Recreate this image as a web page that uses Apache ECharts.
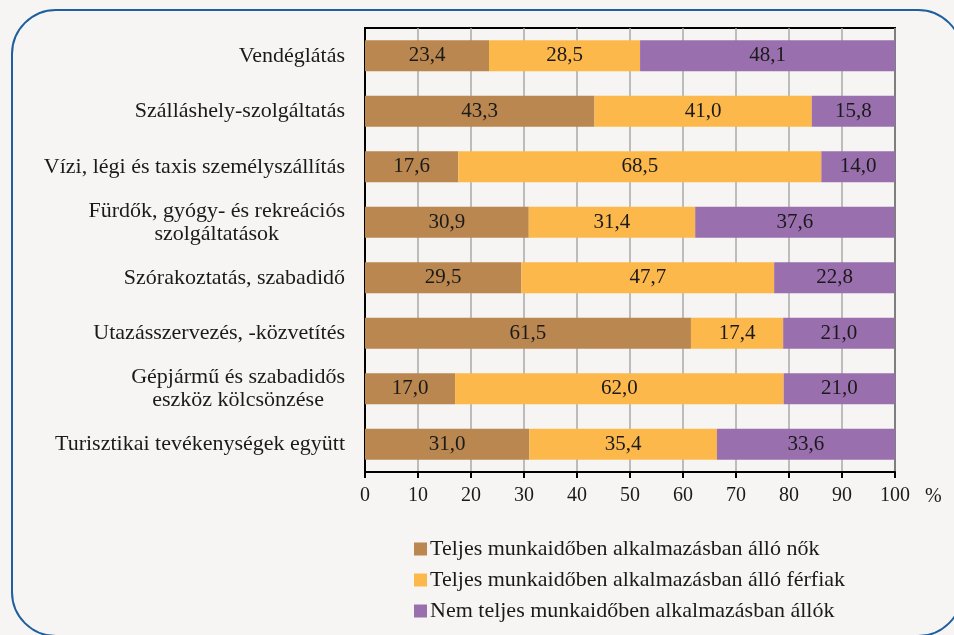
<!DOCTYPE html>
<html>
<head>
<meta charset="utf-8">
<script src="https://cdn.jsdelivr.net/npm/echarts@6/dist/echarts.min.js"></script>
<style>
	html, body { margin: 0; padding: 0; background: #f6f5f3; }
	#chart { width: 954px; height: 635px; }
</style>
</head>
<body>
<div id="chart"></div>
<script>
var categories = [
	'Vendéglátás',
	'Szálláshely-szolgáltatás',
	'Vízi, légi és taxis személyszállítás',
	'Fürdők, gyógy- és rekreációs\nszolgáltatások',
	'Szórakoztatás, szabadidő',
	'Utazásszervezés, -közvetítés',
	'Gépjármű és szabadidős\neszköz kölcsönzése',
	'Turisztikai tevékenységek együtt'
];
var seriesNames = [
	'Teljes munkaidőben alkalmazásban álló nők',
	'Teljes munkaidőben alkalmazásban álló férfiak',
	'Nem teljes munkaidőben alkalmazásban állók'
];
var womenFull = [23.4, 43.3, 17.6, 30.9, 29.5, 61.5, 17.0, 31.0];
var menFull = [28.5, 41.0, 68.5, 31.4, 47.7, 17.4, 62.0, 35.4];
var partTime = [48.1, 15.8, 14.0, 37.6, 22.8, 21.0, 21.0, 33.6];
var colors = ['#b9874f', '#fcb84a', '#9a6fae'];

var myChart = echarts.init(document.getElementById('chart'));
var font = '"Liberation Serif", "DejaVu Serif", serif';
var textColor = '#1a1a1a';

function makeSeries(name, data, color) {
	return {
		name: name,
		type: 'bar',
		stack: 'total',
		data: data,
		barCategoryGap: '44%',
		itemStyle: { color: color },
		label: {
			show: true,
			position: 'inside',
			color: textColor,
			fontFamily: font,
			fontSize: 21,
			formatter: function (p) {
				return p.value.toFixed(1).replace('.', ',');
			}
		}
	};
}

var option = {
	backgroundColor: '#f6f5f3',
	animation: false,
	graphic: [{
		type: 'rect',
		shape: { x: 12, y: 10, width: 950, height: 626, r: 44 },
		style: { fill: 'none', stroke: '#1f5f9f', lineWidth: 2 },
		silent: true
	}],
	grid: {
		left: 365,
		right: 59,
		top: 28,
		bottom: 163,
		show: true,
		borderColor: '#000',
		borderWidth: 2,
		backgroundColor: 'transparent'
	},
	legend: {
		orient: 'vertical',
		left: 409,
		top: 533,
		itemWidth: 13,
		itemHeight: 13,
		itemGap: 9,
		icon: 'rect',
		data: seriesNames,
		textStyle: { fontFamily: font, fontSize: 22, color: textColor, padding: [0, 0, 0, -2] }
	},
	xAxis: {
		type: 'value',
		min: 0,
		max: 100,
		interval: 10,
		name: '%',
		nameLocation: 'end',
		nameGap: 30,
		nameTextStyle: {
			fontFamily: font, fontSize: 20, color: textColor,
			verticalAlign: 'top', align: 'left', padding: [15, 0, 0, 0]
		},
		axisLine: { show: true, lineStyle: { color: '#000', width: 2 } },
		axisTick: { show: true, length: 6, lineStyle: { color: '#000', width: 2 } },
		axisLabel: { fontFamily: font, fontSize: 20, color: textColor, margin: 14 },
		splitLine: { show: true, lineStyle: { color: '#a8a8a8', width: 1.5 } }
	},
	yAxis: {
		type: 'category',
		data: categories,
		inverse: true,
		axisLine: { show: true, lineStyle: { color: '#000', width: 2 } },
		axisTick: { show: false },
		axisLabel: {
			margin: 20,
			fontFamily: font,
			fontSize: 22,
			color: textColor,
			lineHeight: 23,
			formatter: function (v) {
				return v.split('\n').map(function (s) { return '{c|' + s + '}'; }).join('\n');
			},
			rich: {
				c: { fontFamily: font, fontSize: 22, color: textColor, align: 'center', lineHeight: 23 }
			}
		}
	},
	series: [
		makeSeries(seriesNames[0], womenFull, colors[0]),
		makeSeries(seriesNames[1], menFull, colors[1]),
		makeSeries(seriesNames[2], partTime, colors[2])
	]
};

myChart.setOption(option);
</script>
</body>
</html>
